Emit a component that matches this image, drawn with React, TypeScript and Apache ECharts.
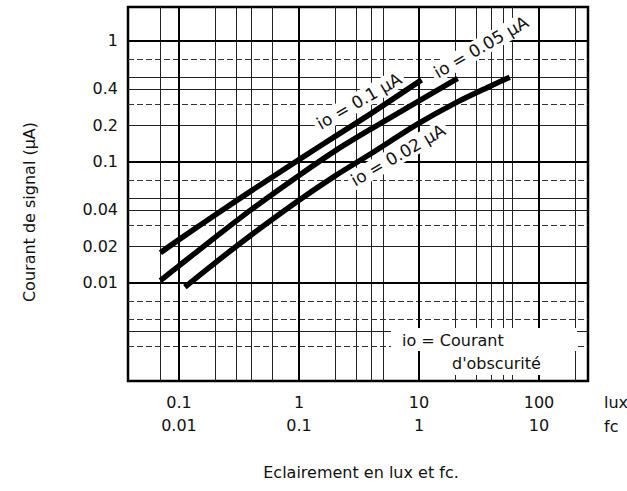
import React, { useEffect, useRef } from "react";
import * as echarts from "echarts";

// Curve io = 0.1 µA
const luxA = [0.07, 0.1, 0.2, 0.4, 1, 2, 4, 10.5];
const sigA = [0.0177, 0.0227, 0.0363, 0.0574, 0.104, 0.162, 0.251, 0.475];
// Curve io = 0.05 µA
const luxB = [0.07, 0.1, 0.2, 0.4, 1, 2, 4, 10, 21];
const sigB = [0.0104, 0.0138, 0.0237, 0.0402, 0.077, 0.123, 0.187, 0.318, 0.489];
// Curve io = 0.02 µA
const luxC = [0.112, 0.2, 0.4, 1, 2, 4, 10, 20, 40, 57];
const sigC = [0.0092, 0.0146, 0.0248, 0.048, 0.0764, 0.117, 0.208, 0.305, 0.425, 0.5];

const curveNames = ["io = 0.1 µA", "io = 0.05 µA", "io = 0.02 µA"];

// Axis tick labels
const xLabelTicks = [0.1, 1, 10, 100];
const yLabelTicks = [1, 0.4, 0.2, 0.1, 0.04, 0.02, 0.01];

// Grid lines
const xMajor = [0.1, 1, 10, 100];
const xMinor = [0.07, 0.2, 0.3, 0.4, 0.6, 2, 3, 4, 5, 20, 30, 40, 50, 60, 200];
const yMajor = [1, 0.1, 0.01];
const yMinorSolid = [0.5, 0.4, 0.2, 0.05, 0.04, 0.02, 0.004];
const yMinorDashed = [0.7, 0.3, 0.07, 0.03, 0.007, 0.005, 0.003];

const X_MIN = 0.0376;
const X_MAX = 256;
const Y_MIN = 0.00154;
const Y_MAX = 1.9;

const FONT = "DejaVu Sans";

const fmt = (v: number) => String(parseFloat(Number(v).toPrecision(3)));

const zip = (xs: number[], ys: number[]) => xs.map((x, i) => [x, ys[i]]);

const vLines = (vals: number[]) => vals.map((v) => ({ coords: [[v, Y_MIN], [v, Y_MAX]] }));
const hLines = (vals: number[]) => vals.map((v) => ({ coords: [[X_MIN, v], [X_MAX, v]] }));

export default function App() {
  const ref = useRef<HTMLDivElement>(null);

  useEffect(() => {
    if (!ref.current) return;
    const chart = echarts.init(ref.current, undefined, { renderer: "svg" });

    const gridSeries = (data: any[], lineStyle: any) => ({
      type: "lines",
      coordinateSystem: "cartesian2d",
      polyline: false,
      silent: true,
      z: 1,
      symbol: "none",
      data,
      lineStyle: { color: "#000", opacity: 1, ...lineStyle },
    });

    const curve = (name: string, xs: number[], ys: number[]) => ({
      name,
      type: "line",
      data: zip(xs, ys),
      showSymbol: false,
      smooth: 0.3,
      z: 5,
      lineStyle: { color: "#000", width: 5.5, cap: "butt" },
    });

    const labelText = (text: string, x: number, y: number) => ({
      type: "text",
      x,
      y,
      rotation: (30 * Math.PI) / 180,
      z: 20,
      style: {
        text,
        fontFamily: FONT,
        fontSize: 17,
        fill: "#111",
        align: "center",
        verticalAlign: "middle",
        backgroundColor: "#fff",
        padding: [1, 3],
      },
    });

    const option: any = {
      animation: false,
      backgroundColor: "#fff",
      textStyle: { fontFamily: FONT },
      grid: {
        left: 128,
        top: 7,
        width: 460,
        height: 374,
        show: true,
        borderColor: "#000",
        borderWidth: 2.5,
        backgroundColor: "transparent",
        containLabel: false,
        outerBoundsMode: "none",
      },
      xAxis: {
        type: "log",
        logBase: 10,
        min: X_MIN,
        max: X_MAX,
        axisLine: { show: false },
        axisTick: { show: false },
        splitLine: { show: false },
        axisLabel: {
          customValues: xLabelTicks,
          formatter: (v: number) => `${fmt(v)}\n${fmt(v / 10)}`,
          fontFamily: FONT,
          fontSize: 16,
          color: "#111",
          lineHeight: 23,
          margin: 10,
        },
      },
      yAxis: {
        type: "log",
        logBase: 10,
        min: Y_MIN,
        max: Y_MAX,
        axisLine: { show: false },
        axisTick: { show: false },
        splitLine: { show: false },
        axisLabel: {
          customValues: yLabelTicks,
          formatter: (v: number) => fmt(v),
          fontFamily: FONT,
          fontSize: 16,
          color: "#111",
          margin: 10,
        },
      },
      series: [
        gridSeries(vLines(xMinor), { width: 1, color: "#222" }),
        gridSeries(hLines(yMinorSolid), { width: 1, color: "#222" }),
        gridSeries(hLines(yMinorDashed), { width: 1, color: "#333", type: [6, 3] }),
        gridSeries(vLines(xMajor), { width: 2 }),
        gridSeries(hLines(yMajor), { width: 2 }),
        curve(curveNames[0], luxA, sigA),
        curve(curveNames[1], luxB, sigB),
        curve(curveNames[2], luxC, sigC),
      ],
      graphic: [
        {
          type: "text",
          x: 29,
          y: 212,
          rotation: Math.PI / 2,
          z: 20,
          style: {
            text: "Courant de signal (µA)",
            fontFamily: FONT,
            fontSize: 16,
            fill: "#111",
            align: "center",
            verticalAlign: "middle",
          },
        },
        {
          type: "text",
          x: 361,
          y: 472,
          z: 20,
          style: {
            text: "Eclairement en lux et fc.",
            fontFamily: FONT,
            fontSize: 16,
            fill: "#111",
            align: "center",
            verticalAlign: "middle",
          },
        },
        {
          type: "text",
          x: 604,
          y: 402,
          z: 20,
          style: { text: "lux", fontFamily: FONT, fontSize: 16, fill: "#111", align: "left", verticalAlign: "middle" },
        },
        {
          type: "text",
          x: 604,
          y: 426,
          z: 20,
          style: { text: "fc", fontFamily: FONT, fontSize: 16, fill: "#111", align: "left", verticalAlign: "middle" },
        },
        labelText(curveNames[0], 359, 101),
        labelText(curveNames[1], 481, 47),
        labelText(curveNames[2], 398, 155),
        {
          type: "rect",
          z: 18,
          shape: { x: 391, y: 328, width: 186, height: 23 },
          style: { fill: "#fff" },
        },
        {
          type: "rect",
          z: 18,
          shape: { x: 441, y: 351, width: 134, height: 24 },
          style: { fill: "#fff" },
        },
        {
          type: "text",
          x: 402,
          y: 340,
          z: 20,
          style: { text: "io = Courant", fontFamily: FONT, fontSize: 16, fill: "#111", align: "left", verticalAlign: "middle" },
        },
        {
          type: "text",
          x: 452,
          y: 363,
          z: 20,
          style: { text: "d'obscurité", fontFamily: FONT, fontSize: 16, fill: "#111", align: "left", verticalAlign: "middle" },
        },
      ],
    };

    chart.setOption(option);
    return () => chart.dispose();
  }, []);

  return (
    <div
      ref={ref}
      style={{ position: "fixed", left: 0, top: 0, width: 627, height: 491, background: "#fff" }}
    />
  );
}
